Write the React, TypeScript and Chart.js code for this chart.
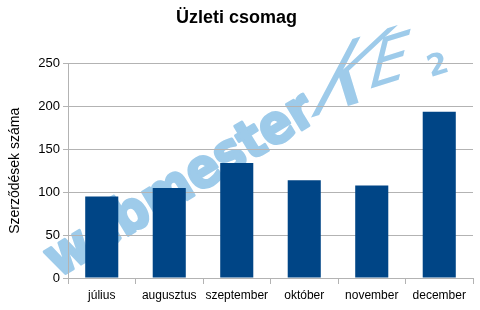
import React, { useEffect, useRef } from "react";
import { Chart, registerables } from "chart.js";

Chart.register(...registerables);

const categories = ["július", "augusztus", "szeptember", "október", "november", "december"];
const values = [95, 105, 134, 114, 108, 194];
const chartTitle = "Üzleti csomag";
const yTitle = "Szerződések száma";
const watermarkMain = "webmester";
const watermarkK = "K";
const watermarkE = "E";
const watermarkSub = "2";

const watermarkPlugin = {
  id: "watermark",
  beforeDraw(chart: any) {
    const ctx = chart.ctx as CanvasRenderingContext2D;
    const col = "rgb(158,203,234)";
    ctx.save();
    ctx.fillStyle = col;
    ctx.strokeStyle = col;
    ctx.lineJoin = "round";
    ctx.lineWidth = 3;
    ctx.translate(58, 278);
    ctx.rotate(-0.546);
    ctx.font = "bold 54px 'DejaVu Sans'";
    ctx.textBaseline = "alphabetic";
    const w = ctx.measureText(watermarkMain).width;
    const target = 305;
    ctx.save();
    ctx.scale(target / w, 1);
    ctx.fillText(watermarkMain, 0, 0);
    ctx.strokeText(watermarkMain, 0, 0);
    ctx.restore();
    ctx.restore();

    ctx.save();
    ctx.fillStyle = col;
    ctx.translate(303, 120);
    ctx.rotate(-0.3);
    ctx.save();
    ctx.transform(1, 0, -1.0, 1, 0, 0);
    ctx.font = "86px 'DejaVu Sans'";
    ctx.fillText(watermarkK, 0, 0);
    ctx.restore();
    ctx.save();
    ctx.translate(68, -10);
    ctx.transform(1, 0, -0.6, 1, 0, 0);
    ctx.font = "62px 'DejaVu Sans'";
    ctx.fillText(watermarkE, 0, 0);
    ctx.restore();
    ctx.font = "bold 30px 'DejaVu Sans'";
    ctx.textAlign = "center";
    ctx.textBaseline = "middle";
    ctx.fillText(watermarkSub, 145, -11);
    ctx.restore();
  },
};

export default function App() {
  const ref = useRef<HTMLCanvasElement>(null);
  useEffect(() => {
    document.body.style.margin = "0";
    const chart = new Chart(ref.current!, {
      type: "bar",
      data: {
        labels: categories,
        datasets: [
          {
            data: values,
            backgroundColor: "#004586",
            barPercentage: 0.49,
            categoryPercentage: 1,
          },
        ],
      },
      plugins: [watermarkPlugin],
      options: {
        animation: false,
        responsive: false,
        maintainAspectRatio: false,
        layout: { padding: { left: 0, right: 7, top: 0, bottom: 0 } },
        plugins: {
          legend: { display: false },
          tooltip: { enabled: false },
          title: {
            display: true,
            text: chartTitle,
            color: "#000",
            font: { family: "'Liberation Sans', Arial, sans-serif", size: 18, weight: "bold" },
            padding: { top: 7, bottom: 35 },
          },
        },
        scales: {
          x: {
            offset: true,
            grid: {
              display: true,
              offset: true,
              drawOnChartArea: false,
              drawTicks: true,
              tickLength: 6,
              color: "#b3b3b3",
            },
            border: { display: true, color: "#b3b3b3" },
            ticks: {
              color: "#000",
              padding: 4,
              font: { family: "'Liberation Sans', Arial, sans-serif", size: 12 },
              maxRotation: 0,
              autoSkip: false,
            },
            afterFit(scale: any) {
              scale.height = 32;
            },
          },
          y: {
            min: 0,
            max: 250,
            ticks: {
              stepSize: 50,
              color: "#000",
              padding: 3,
              font: { family: "'Liberation Sans', Arial, sans-serif", size: 13 },
            },
            grid: { color: "#b3b3b3", tickLength: 5 },
            border: { display: true, color: "#b3b3b3" },
            title: {
              display: true,
              text: yTitle,
              color: "#000",
              font: { family: "'Liberation Sans', Arial, sans-serif", size: 14 },
              padding: { top: 7, bottom: 0 },
            },
            afterFit(scale: any) {
              scale.width = 68;
            },
          },
        },
      },
    });
    return () => chart.destroy();
  }, []);
  return (
    <div style={{ width: 480, height: 310, background: "#fff" }}>
      <canvas ref={ref} width={480} height={310} />
    </div>
  );
}
